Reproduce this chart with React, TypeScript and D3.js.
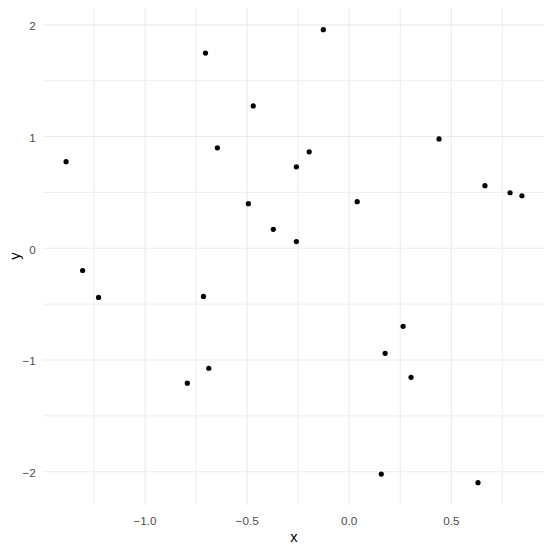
import React from "react";
import * as d3 from "d3";

const xValues = [-1.387, -1.306, -1.228, -0.704, -0.646, -0.470, -0.494, -0.372, -0.714, -0.793, -0.688, -0.127, -0.196, -0.259, -0.259, 0.039, 0.440, 0.665, 0.788, 0.846, 0.264, 0.176, 0.303, 0.157, 0.631];
const yValues = [0.775, -0.199, -0.440, 1.747, 0.899, 1.274, 0.399, 0.170, -0.431, -1.208, -1.074, 1.957, 0.863, 0.729, 0.060, 0.417, 0.979, 0.560, 0.497, 0.470, -0.699, -0.940, -1.155, -2.021, -2.098];
const xTicks = [-1.0, -0.5, 0.0, 0.5];
const xMinor = [-1.25, -0.75, -0.25, 0.25, 0.75];
const yTicks = [-2, -1, 0, 1, 2];
const yMinor = [-1.5, -0.5, 0.5, 1.5];

const W = 553, H = 552;
const left = 43.3, right = 544.7, top = 7.0, bottom = 505.3;

function expand(vals: number[]): [number, number] {
  const mn = d3.min(vals)!, mx = d3.max(vals)!;
  const r = mx - mn;
  return [mn - 0.05 * r, mx + 0.05 * r];
}

export default function App() {
  const x = d3.scaleLinear().domain(expand(xValues)).range([left, right]);
  const y = d3.scaleLinear().domain(expand(yValues)).range([bottom, top]);
  const grid = "#EBEBEB";
  const font = "'Liberation Sans', Arial, sans-serif";
  return (
    <svg width={W} height={H} style={{ position: "absolute", left: 0, top: 0, background: "white" }}>
      <rect width={W} height={H} fill="white" />
      {yMinor.map((v) => (
        <line key={"ym" + v} x1={left} x2={right} y1={y(v)} y2={y(v)} stroke={grid} strokeWidth={0.9} />
      ))}
      {xMinor.map((v) => (
        <line key={"xm" + v} x1={x(v)} x2={x(v)} y1={top} y2={bottom} stroke={grid} strokeWidth={0.9} />
      ))}
      {yTicks.map((v) => (
        <line key={"y" + v} x1={left} x2={right} y1={y(v)} y2={y(v)} stroke={grid} strokeWidth={1.1} />
      ))}
      {xTicks.map((v) => (
        <line key={"x" + v} x1={x(v)} x2={x(v)} y1={top} y2={bottom} stroke={grid} strokeWidth={1.1} />
      ))}
      {xValues.map((xv, i) => (
        <circle key={"p" + i} cx={x(xv)} cy={y(yValues[i])} r={2.6} fill="black" />
      ))}
      {yTicks.map((v) => (
        <text key={"yl" + v} x={left - 7.5} y={y(v) + 5.4} textAnchor="end" fontFamily={font} fontSize={11.7} fill="#4D4D4D">
          {d3.format("d")(v)}
        </text>
      ))}
      {xTicks.map((v) => (
        <text key={"xl" + v} x={x(v)} y={bottom + 19.8} textAnchor="middle" fontFamily={font} fontSize={11.7} fill="#4D4D4D">
          {d3.format(".1f")(v)}
        </text>
      ))}
      <text x={(left + right) / 2} y={541.5} textAnchor="middle" fontFamily={font} fontSize={14.67} fill="black">x</text>
      <text transform={`translate(${20},${(top + bottom) / 2}) rotate(-90)`} textAnchor="middle" fontFamily={font} fontSize={14.67} fill="black">y</text>
    </svg>
  );
}
